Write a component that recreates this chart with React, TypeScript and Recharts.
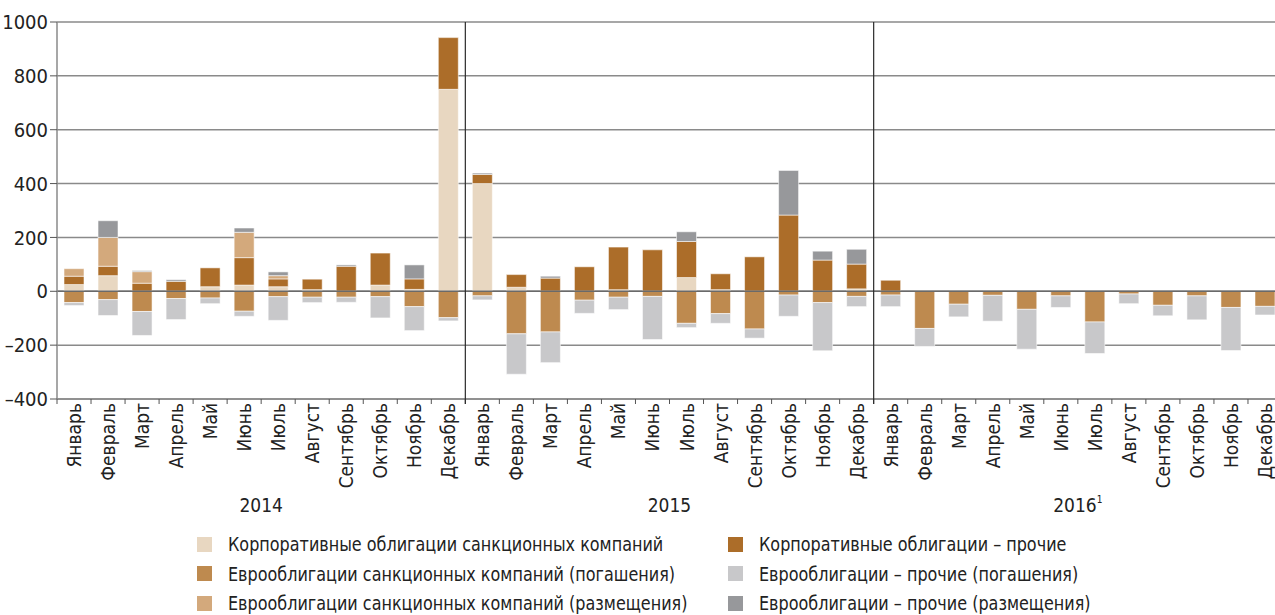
import React from "react";
import { Bar, BarChart, CartesianGrid, ReferenceLine, XAxis, YAxis } from "recharts";

const months = [
  "Январь", "Февраль", "Март", "Апрель", "Май", "Июнь",
  "Июль", "Август", "Сентябрь", "Октябрь", "Ноябрь", "Декабрь",
];
const years = ["2014", "2015", "2016"];

// млрд руб., by month 2014–2016
const corpSanctioned = [
  25, 58, 0, 0, 17, 23, 17, 6, 0, 23, 7, 750,
  400, 15, 0, 0, 6, 0, 51, 6, 0, 0, 0, 9,
  0, 0, 0, 0, 0, 0, 0, 0, 0, 0, 0, 0,
];
const corpOther = [
  31, 35, 30, 37, 70, 102, 29, 39, 93, 119, 39, 192,
  34, 47, 49, 91, 158, 154, 134, 59, 128, 283, 116, 92,
  41, 0, 0, 0, 0, 0, 0, 0, 0, 0, 0, 0,
];
const euroSanctionedPlaced = [
  28, 107, 43, 0, 0, 94, 12, 0, 0, 0, 0, 0,
  0, 0, 0, 0, 0, 0, 0, 0, 0, 0, 0, 0,
  0, 0, 0, 0, 0, 0, 0, 0, 0, 0, 0, 0,
];
const euroOtherPlaced = [
  0, 62, 4, 6, 0, 16, 14, 0, 5, 0, 52, 0,
  5, 0, 7, 0, 0, 0, 36, 0, 0, 166, 33, 55,
  0, 0, 0, 0, 0, 0, 0, 0, 0, 0, 0, 0,
];
const euroSanctionedRepaid = [
  -42, -31, -75, -27, -25, -74, -20, -22, -22, -20, -57, -98,
  -17, -158, -151, -33, -22, -19, -119, -83, -140, -14, -42, -19,
  -14, -138, -48, -15, -67, -17, -114, -10, -52, -17, -60, -56,
];
const euroOtherRepaid = [
  -11, -59, -89, -78, -21, -19, -88, -20, -19, -79, -89, -12,
  -15, -150, -114, -49, -46, -160, -16, -36, -34, -79, -179, -38,
  -43, -67, -47, -96, -148, -43, -117, -36, -39, -89, -160, -32,
];

const yTicks = [-400, -200, 0, 200, 400, 600, 800, 1000];

const series = [
  { key: "corpSanctioned", name: "Корпоративные облигации санкционных компаний", color: "#e8d7c1", values: corpSanctioned },
  { key: "corpOther", name: "Корпоративные облигации – прочие", color: "#ac6d29", values: corpOther },
  { key: "euroSanctionedPlaced", name: "Еврооблигации санкционных компаний (размещения)", color: "#d3a97c", values: euroSanctionedPlaced },
  { key: "euroOtherPlaced", name: "Еврооблигации – прочие (размещения)", color: "#97989b", values: euroOtherPlaced },
  { key: "euroSanctionedRepaid", name: "Еврооблигации санкционных компаний (погашения)", color: "#be8a4f", values: euroSanctionedRepaid },
  { key: "euroOtherRepaid", name: "Еврооблигации – прочие (погашения)", color: "#c8c8ca", values: euroOtherRepaid },
];

const legendOrder = [
  ["corpSanctioned", "corpOther"],
  ["euroSanctionedRepaid", "euroOtherRepaid"],
  ["euroSanctionedPlaced", "euroOtherPlaced"],
];

const data = years.flatMap((yr, yi) =>
  months.map((m, mi) => {
    const i = yi * 12 + mi;
    const row: Record<string, any> = { id: `${yr}-${mi + 1}`, month: m, year: yr };
    series.forEach((s) => (row[s.key] = s.values[i]));
    return row;
  })
);

const FONT = '"Liberation Sans Narrow", "Arial Narrow", "DejaVu Sans Condensed", sans-serif';
const W = 1290;
const H = 520;
const M = { top: 22, right: 8, left: 0, bottom: 0 };
const Y_W = 57;
const X_H = 121;
const PLOT_H = H - M.top - M.bottom - X_H;
const BAND = (W - M.left - M.right - Y_W) / data.length;

function MonthTick(props: any) {
  const { x, y, index } = props;
  const row = data[index];
  const left = x - BAND / 2;
  return (
    <g>
      <line x1={left} y1={y} x2={left} y2={y + 5} stroke="#555" strokeWidth={1} />
      {index % 12 === 0 && index > 0 && (
        <line x1={left} y1={y - PLOT_H} x2={left} y2={y + 5} stroke="#2a2a2a" strokeWidth={1.2} />
      )}
      <text
        transform={`translate(${x + 7},${y + 4}) rotate(-90)`}
        textAnchor="end"
        fontSize={19}
        fontFamily={FONT}
        fill="#222"
      >
        {row.month}
      </text>
      {index % 12 === 6 && (
        <text x={left} y={y + 113} textAnchor="middle" fontSize={19} fontFamily={FONT} fill="#222">
          <tspan>{row.year}</tspan>
          {row.year === "2016" && (
            <tspan fontSize={10} dy={-9}>
              1
            </tspan>
          )}
        </text>
      )}
    </g>
  );
}

export default function App() {
  return (
    <div
      style={{
        position: "fixed",
        top: 0,
        left: 0,
        width: 1275,
        height: 615,
        overflow: "hidden",
        background: "#fff",
        fontFamily: FONT,
      }}
    >
      <BarChart width={W} height={H} data={data} margin={M} stackOffset="sign" barSize={20}>
        <CartesianGrid vertical={false} stroke="#8a8a8a" strokeWidth={1.5} />
        <XAxis
          dataKey="id"
          interval={0}
          height={X_H}
          tickLine={false}
          tickSize={0}
          tickMargin={0}
          axisLine={{ stroke: "#8a8a8a", strokeWidth: 1.5 }}
          tick={<MonthTick />}
        />
        <YAxis
          domain={[-400, 1000]}
          ticks={yTicks}
          width={Y_W}
          interval={0}
          tickSize={7}
          tickMargin={2}
          axisLine={{ stroke: "#8a8a8a", strokeWidth: 1.5 }}
          tickLine={{ stroke: "#555" }}
          tick={{ fontSize: 20, fill: "#222", fontFamily: FONT }}
          tickFormatter={(v: number) => String(v).replace("-", "–")}
        />
        {series.map((s) => (
          <Bar
            key={s.key}
            dataKey={s.key}
            name={s.name}
            stackId="a"
            fill={s.color}
            stroke="#ffffff"
            strokeOpacity={0.55}
            strokeWidth={1}
            isAnimationActive={false}
          />
        ))}
        <ReferenceLine y={0} stroke="#6a6a6a" strokeWidth={1.5} />
      </BarChart>
      {legendOrder.map((rowKeys, r) =>
        rowKeys.map((k, c) => {
          const s = series.find((q) => q.key === k)!;
          return (
            <div
              key={k}
              style={{
                position: "absolute",
                left: c === 0 ? 197 : 728,
                top: 534 + r * 29.5,
                height: 20,
                display: "flex",
                alignItems: "center",
                fontSize: 20,
                color: "#222",
                whiteSpace: "nowrap",
              }}
            >
              <span style={{ width: 15, height: 15, background: s.color, marginRight: 16, flex: "none" }} />
              <span style={{ display: "inline-block", transform: "scaleX(0.89)", transformOrigin: "left center" }}>
                {s.name}
              </span>
            </div>
          );
        })
      )}
    </div>
  );
}
